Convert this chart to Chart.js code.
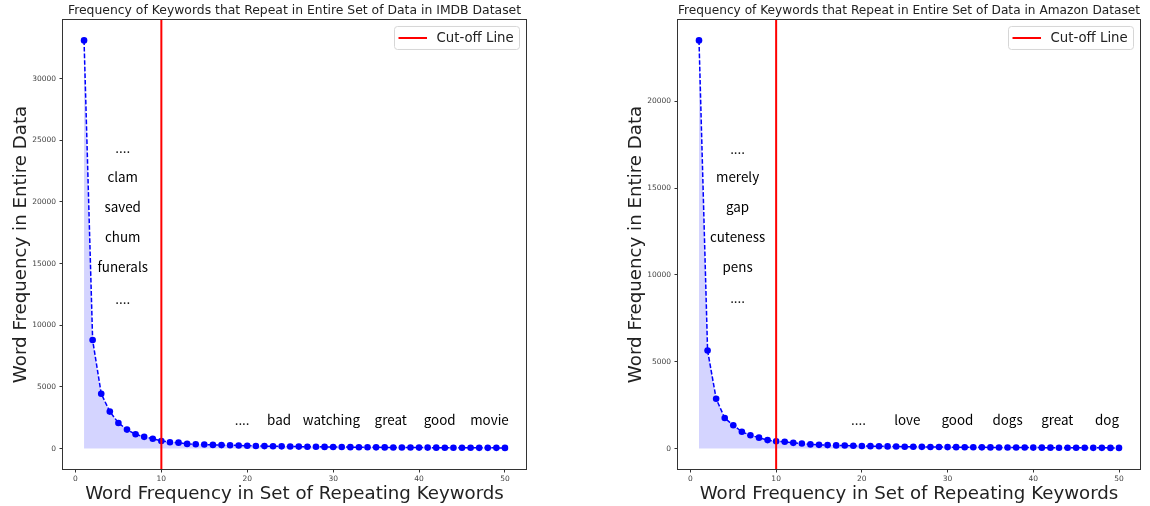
<!DOCTYPE html>
<html>
<head>
<meta charset="utf-8">
<script src="https://cdn.jsdelivr.net/npm/chart.js@4.4.1/dist/chart.umd.min.js"></script>
<style>
body{margin:0;background:#fff;}
#wrap{position:relative;width:1150px;height:506px;}
canvas{position:absolute;top:0;}
</style>
</head>
<body>
<div id="wrap">
<canvas id="imdbChart" width="575" height="506" style="left:0"></canvas>
<canvas id="amazonChart" width="575" height="506" style="left:575px"></canvas>
</div>
<script>
/* DATA */
const ranks=[1,2,3,4,5,6,7,8,9,10,11,12,13,14,15,16,17,18,19,20,21,22,23,24,25,
26,27,28,29,30,31,32,33,34,35,36,37,38,39,40,41,42,43,44,45,46,47,48,49,50];

const imdbFreq=[33100,8800,4450,3000,2080,1540,1160,950,800,620,
520,480,380,350,330,300,285,270,250,230,
215,200,190,180,170,160,152,145,138,130,
124,118,112,107,102,98,94,90,86,82,
79,76,73,70,67,64,62,60,58,55];

const amazonFreq=[23500,5650,2870,1760,1340,970,770,630,490,420,
390,330,290,240,215,200,185,175,160,150,
140,132,125,118,110,105,100,95,90,86,
82,78,75,72,69,66,63,61,59,57,
55,53,51,49,47,45,44,42,41,40];

const cutoff=10;
const xTicks=[0,10,20,30,40,50];
const imdbYTicks=[0,5000,10000,15000,20000,25000,30000];
const amazonYTicks=[0,5000,10000,15000,20000];

const imdbSideWords=["....","clam","saved","chum","funerals","...."];
const imdbSideY=[24400,22050,19600,17150,14700,12150];
const imdbRowWords=["....","bad","watching","great","good","movie"];
const imdbRowX=[19.4,23.7,29.8,36.7,42.4,48.2];
const imdbRowY=2350;

const amazonSideWords=["....","merely","gap","cuteness","pens","...."];
const amazonSideY=[17280,15630,13910,12180,10460,8670];
const amazonRowWords=["....","love","good","dogs","great","dog"];
const amazonRowX=[19.6,25.3,31.15,37.0,42.8,48.6];
const amazonRowY=1670;

const sideX=5.5;

Chart.defaults.font.family="DejaVu Sans";
Chart.defaults.color="#222";

/* EXTRAS: frame, notes, legend */
const extras={
id:"extras",
afterDatasetsDraw(chart,args,o){
const {ctx,chartArea:a,scales:{x,y}}=chart;
ctx.save();

ctx.font='13.4px "Noto Sans CJK JP"';
ctx.fillStyle="#000";
ctx.textAlign="center";
ctx.textBaseline="middle";
o.sideWords.forEach((w,i)=>ctx.fillText(w,x.getPixelForValue(sideX),y.getPixelForValue(o.sideY[i])));
o.rowWords.forEach((w,i)=>ctx.fillText(w,x.getPixelForValue(o.rowX[i]),y.getPixelForValue(o.rowY)));

/* legend */
const bw=125,bh=23;
const bx=a.right-7-bw,by=a.top+6;
ctx.beginPath();
ctx.roundRect(bx+0.5,by+0.5,bw,bh,3);
ctx.fillStyle="rgba(255,255,255,0.8)";
ctx.fill();
ctx.strokeStyle="#d6d6d6";
ctx.lineWidth=1;
ctx.stroke();
ctx.beginPath();
ctx.moveTo(bx+4.5,by+bh/2+0.5);
ctx.lineTo(bx+33,by+bh/2+0.5);
ctx.strokeStyle="red";
ctx.lineWidth=2;
ctx.stroke();
ctx.font="13.3px DejaVu Sans";
ctx.fillStyle="#222";
ctx.textAlign="left";
ctx.fillText("Cut-off Line",bx+42.5,by+bh/2+1);

/* frame */
ctx.strokeStyle="#333";
ctx.lineWidth=1;
ctx.strokeRect(Math.round(a.left)-0.5,Math.round(a.top)-0.5,Math.round(a.right-a.left)+1,Math.round(a.bottom-a.top)+1);
ctx.restore();
}
};

function makeChart(id,freq,yTicks,title,notes,padLeft,padRight){
const top=Math.max(...freq);
const yMin=-0.05*top,yMax=1.05*top;
const xMin=ranks[0]-0.05*(ranks[ranks.length-1]-ranks[0]);
const xMax=ranks[ranks.length-1]+0.05*(ranks[ranks.length-1]-ranks[0]);

return new Chart(document.getElementById(id),{
type:"line",
data:{
datasets:[
{
label:"Cut-off Line",
data:[{x:cutoff,y:yMin},{x:cutoff,y:yMax}],
borderColor:"red",
borderWidth:2,
pointRadius:0,
fill:false,
order:0
},
{
label:"freq",
data:ranks.map((r,i)=>({x:r,y:freq[i]})),
borderColor:"blue",
borderWidth:1.5,
borderDash:[4.6,2],
backgroundColor:"rgba(0,0,255,0.17)",
pointBackgroundColor:"blue",
pointBorderColor:"blue",
pointBorderWidth:0,
pointRadius:3.3,
fill:"origin",
tension:0,
order:1
}
]
},
options:{
responsive:false,
animation:false,
events:[],
layout:{padding:{left:padLeft,right:padRight,top:0,bottom:0}},
plugins:{
legend:{display:false},
tooltip:{enabled:false},
title:{
display:true,
text:title,
fullSize:false,
font:{size:12.4,weight:"normal"},
color:"#222",
padding:{top:3,bottom:2.1}
},
extras:notes
},
scales:{
x:{
type:"linear",
min:xMin,max:xMax,
afterBuildTicks:s=>{s.ticks=xTicks.map(v=>({value:v}));},
afterFit:s=>{s.height=37;},
ticks:{font:{size:7.5},color:"#444",padding:2,maxRotation:0,callback:v=>String(v)},
grid:{drawOnChartArea:false,drawTicks:true,tickLength:3.5,color:"#333"},
border:{display:false},
title:{display:true,text:"Word Frequency in Set of Repeating Keywords",font:{size:18.2},color:"#222",padding:{top:0,bottom:1.2}}
},
y:{
type:"linear",
min:yMin,max:yMax,
afterBuildTicks:s=>{s.ticks=yTicks.map(v=>({value:v}));},
afterFit:s=>{s.width=63;},
ticks:{font:{size:7.5},color:"#444",padding:3.5,callback:v=>String(v)},
grid:{drawOnChartArea:false,drawTicks:true,tickLength:3.5,color:"#333"},
border:{display:false},
title:{display:true,text:"Word Frequency in Entire Data",font:{size:18.2},color:"#222",padding:{top:10,bottom:0}}
}
}
},
plugins:[extras]
});
}

/* INIT */
makeChart("imdbChart",imdbFreq,imdbYTicks,
"Frequency of Keywords that Repeat in Entire Set of Data in IMDB Dataset",
{sideWords:imdbSideWords,sideY:imdbSideY,rowWords:imdbRowWords,rowX:imdbRowX,rowY:imdbRowY},0,49);

makeChart("amazonChart",amazonFreq,amazonYTicks,
"Frequency of Keywords that Repeat in Entire Set of Data in Amazon Dataset",
{sideWords:amazonSideWords,sideY:amazonSideY,rowWords:amazonRowWords,rowX:amazonRowX,rowY:amazonRowY},40,10);
</script>
</body>
</html>
